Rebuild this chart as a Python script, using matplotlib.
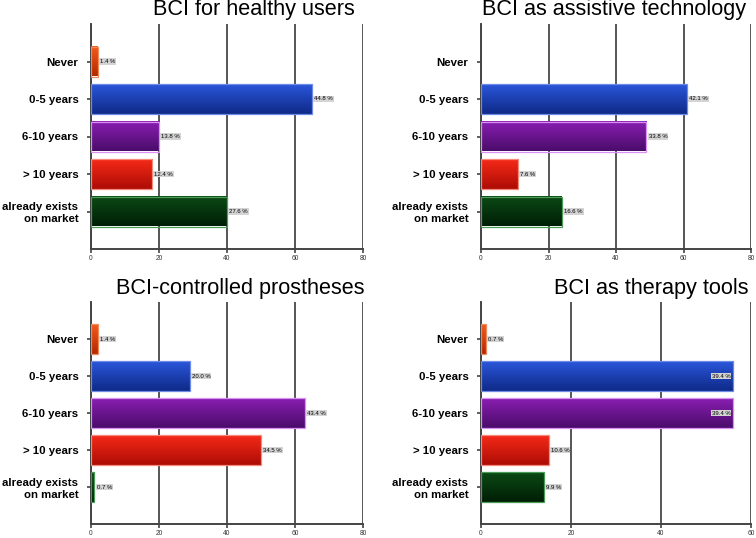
import numpy as np
import matplotlib
matplotlib.use("Agg")
import matplotlib.pyplot as plt
from matplotlib.colors import to_rgb

plt.rcParams['font.family'] = ['Liberation Sans', 'DejaVu Sans']

categories = ["Never", "0-5 years", "6-10 years", "> 10 years", "already exists\non market"]

titles = ["BCI for healthy users", "BCI as assistive technology",
          "BCI-controlled prostheses", "BCI as therapy tools"]

# bar lengths (number of answers) and the printed percentages
healthy_n = [2, 65, 20, 18, 40]
healthy_pct = ["1.4 %", "44.8 %", "13.8 %", "12.4 %", "27.6 %"]
assistive_n = [0, 61, 49, 11, 24]
assistive_pct = ["", "42.1 %", "33.8 %", "7.6 %", "16.6 %"]
prosth_n = [2, 29, 63, 50, 1]
prosth_pct = ["1.4 %", "20.0 %", "43.4 %", "34.5 %", "0.7 %"]
therapy_n = [1, 56, 56, 15, 14]
therapy_pct = ["0.7 %", "39.4 %", "39.4 %", "10.6 %", "9.9 %"]

xmax = [80, 80, 80, 60]

grad_top = ["#f25a1c", "#2a56da", "#8a1eb2", "#f52a18", "#0b4a15"]
grad_bot = ["#b42800", "#0f2a88", "#4a0c6a", "#ad0c05", "#001e05"]
edges = ["#f08a5a", "#6c8ae6", "#d890f4", "#f48a7a", "#4a9a58"]

fig = plt.figure(figsize=(7.56, 5.38), dpi=100)
W, H = 756, 538

# axes boxes in pixels: left, top, right, bottom
boxes = [(91, 24, 363, 249), (481, 24, 751, 249),
         (91, 302, 363, 524), (481, 302, 751, 524)]
title_pos = [(355, 15), (746, 15), (364, 294), (748, 294)]

data = [(healthy_n, healthy_pct), (assistive_n, assistive_pct),
        (prosth_n, prosth_pct), (therapy_n, therapy_pct)]

for k, (counts, pcts) in enumerate(data):
    l, t, r, b = boxes[k]
    ax = fig.add_axes([l / W, 1 - b / H, (r - l) / W, (b - t) / H])
    xm = xmax[k]
    for i, v in enumerate(counts):
        if v <= 0:
            continue
        c1 = np.array(to_rgb(grad_top[i]))
        c2 = np.array(to_rgb(grad_bot[i]))
        f = np.linspace(0, 1, 64)[:, None, None]
        img = c1 * (1 - f) + c2 * f
        ax.imshow(img, extent=(0, v, i + 0.4, i - 0.4), aspect='auto',
                  origin='upper', zorder=3, interpolation='bilinear')
        ax.barh(i, v, height=0.8, facecolor='none', edgecolor=edges[i],
                linewidth=0.9, zorder=4)
        box = dict(boxstyle='square,pad=0.15', fc='#d4d4d4', ec='none')
        if v > xm * 0.85:
            ax.text(v - 0.6, i, pcts[i], ha='right', va='center', fontsize=4.3,
                    zorder=6, bbox=box)
        else:
            ax.text(v + xm * 0.008, i, pcts[i], ha='left', va='center', fontsize=4.3,
                    zorder=6, bbox=box)
    ax.set_xlim(0, xm)
    ax.set_ylim(5, -1)
    ax.set_yticks(range(5))
    ax.set_yticklabels(categories, fontsize=8.2, fontweight='bold')
    ax.set_xticks(np.arange(0, xm + 1, 20))
    ax.tick_params(axis='x', labelsize=4.8, length=3, width=1.2, color='#444444',
                   labelcolor='#333333', pad=1.5)
    ax.tick_params(axis='y', length=3, width=1.2, color='#444444', pad=6)
    ax.grid(axis='x', color='#555555', linewidth=1.4, zorder=1)
    ax.set_axisbelow(True)
    for s in ['top', 'right']:
        ax.spines[s].set_visible(False)
    for s in ['left', 'bottom']:
        ax.spines[s].set_color('#444444')
        ax.spines[s].set_linewidth(1.4)
    tx, ty = title_pos[k]
    fig.text(tx / W, 1 - ty / H, titles[k], ha='right', va='baseline', fontsize=15.6)

fig.savefig("out.png", dpi=100)
